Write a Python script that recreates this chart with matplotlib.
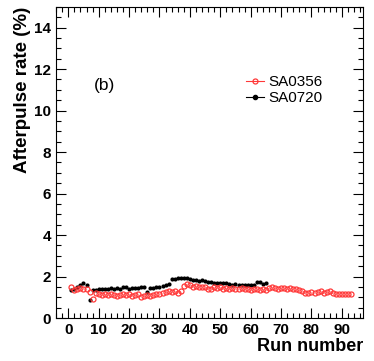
import numpy as np
import matplotlib
matplotlib.use("Agg")
import matplotlib.pyplot as plt
from matplotlib.lines import Line2D
from matplotlib.ticker import MultipleLocator

plt.rcParams["font.family"] = ["Liberation Sans", "DejaVu Sans"]

# ============================================================
# Data
# ============================================================

runs_0356 = np.arange(1, 94)
rate_0356 = [1.50, 1.35, 1.40, 1.45, 1.42, 1.40, 1.25, 0.92, 1.20, 1.15,
             1.12, 1.15, 1.12, 1.15, 1.10, 1.05, 1.10, 1.15, 1.10, 1.15,
             1.05, 1.10, 1.15, 1.02, 1.05, 1.10, 1.05, 1.10, 1.15, 1.18,
             1.20, 1.25, 1.30, 1.25, 1.28, 1.22, 1.30, 1.55, 1.62, 1.58,
             1.52, 1.55, 1.50, 1.52, 1.48, 1.38, 1.42, 1.50, 1.45, 1.48,
             1.42, 1.45, 1.40, 1.45, 1.42, 1.38, 1.45, 1.42, 1.38, 1.35,
             1.40, 1.38, 1.36, 1.38, 1.35, 1.45, 1.48, 1.45, 1.42, 1.45,
             1.45, 1.42, 1.45, 1.40, 1.38, 1.35, 1.30, 1.20, 1.22, 1.25,
             1.22, 1.25, 1.28, 1.22, 1.25, 1.28, 1.20, 1.18, 1.15, 1.18,
             1.15, 1.16, 1.15]

runs_0720 = np.arange(1, 66)
rate_0720 = [1.35, 1.40, 1.50, 1.60, 1.68, 1.60, 0.88, 1.35, 1.37, 1.38,
             1.40, 1.42, 1.42, 1.44, 1.38, 1.45, 1.40, 1.50, 1.50, 1.42,
             1.47, 1.45, 1.45, 1.50, 1.52, 1.27, 1.45, 1.45, 1.50, 1.50,
             1.55, 1.60, 1.62, 1.88, 1.90, 1.92, 1.95, 1.95, 1.93, 1.90,
             1.85, 1.85, 1.80, 1.82, 1.78, 1.75, 1.72, 1.70, 1.70, 1.68,
             1.70, 1.68, 1.65, 1.60, 1.62, 1.60, 1.60, 1.58, 1.60, 1.58,
             1.60, 1.75, 1.72, 1.65, 1.68]

red = "#ff3838"

# ============================================================
# Plot
# ============================================================

fig = plt.figure(figsize=(3.74, 3.61), dpi=100)
ax = fig.add_axes([0.150, 0.119, 0.821, 0.862])

ax.plot(runs_0720, rate_0720, "o", color="black", markersize=3.0, mew=0)
ax.plot(runs_0356, rate_0356, "o", mfc="none", mec=red, markersize=3.6, mew=0.9)

ax.set_xlim(-4, 97)
ax.set_ylim(0, 15)
ax.xaxis.set_major_locator(MultipleLocator(10))
ax.xaxis.set_minor_locator(MultipleLocator(2))
ax.yaxis.set_major_locator(MultipleLocator(2))
ax.yaxis.set_minor_locator(MultipleLocator(0.5))
ax.tick_params(which="both", direction="in", top=True, right=True, width=0.8)
ax.tick_params(which="major", length=7, labelsize=11)
ax.tick_params(which="minor", length=3.5)
for lbl in ax.get_xticklabels() + ax.get_yticklabels():
    lbl.set_fontweight("bold")
for s in ax.spines.values():
    s.set_linewidth(0.8)

ax.set_xlabel("Run number", fontsize=13, fontweight="bold", loc="right", labelpad=1)
ax.set_ylabel("Afterpulse rate (%)", fontsize=13.5, fontweight="bold", loc="top", labelpad=2)

ax.text(12, 11.2, "(b)", fontsize=12.5, ha="center", va="center")

handles = [
    Line2D([], [], color=red, lw=0.8, marker="o", mfc="none", mec=red, markersize=3.6, mew=0.9),
    Line2D([], [], color="black", lw=0.8, marker="o", markersize=3.0),
]
ax.legend(handles, ["SA0356", "SA0720"], loc="upper left", bbox_to_anchor=(0.597, 0.80),
          frameon=False, fontsize=11, handlelength=1.2, handletextpad=0.3,
          labelspacing=0.15, borderaxespad=0)

fig.savefig("out.png", dpi=100)
